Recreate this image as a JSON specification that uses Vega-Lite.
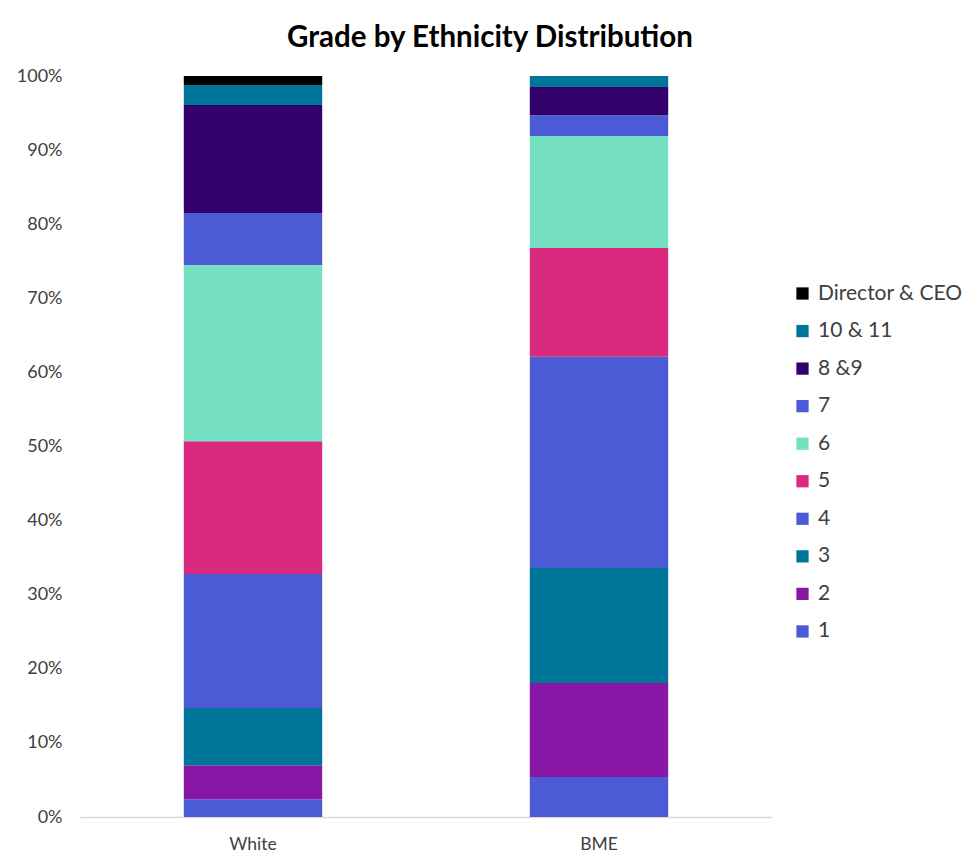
{
  "$schema": "https://vega.github.io/schema/vega-lite/v6.json",
  "width": 692,
  "height": 741,
  "autosize": {"type": "none"},
  "padding": {"left": 80, "top": 76, "right": 194, "bottom": 44},
  "background": "white",
  "title": {
    "text": "Grade by Ethnicity Distribution",
    "font": "Lato",
    "fontSize": 29.5,
    "fontWeight": "bold",
    "color": "#000000",
    "anchor": "middle",
    "dx": 64,
    "offset": 14
  },
  "data": {
    "values": [
      {"group": "White", "grade": "1", "rank": 1, "share": 2.4},
      {"group": "White", "grade": "2", "rank": 2, "share": 4.6},
      {"group": "White", "grade": "3", "rank": 3, "share": 7.7},
      {"group": "White", "grade": "4", "rank": 4, "share": 18.1},
      {"group": "White", "grade": "5", "rank": 5, "share": 17.9},
      {"group": "White", "grade": "6", "rank": 6, "share": 23.8},
      {"group": "White", "grade": "7", "rank": 7, "share": 7.0},
      {"group": "White", "grade": "8 &9", "rank": 8, "share": 14.6},
      {"group": "White", "grade": "10 & 11", "rank": 9, "share": 2.7},
      {"group": "White", "grade": "Director & CEO", "rank": 10, "share": 1.2},
      {"group": "BME", "grade": "1", "rank": 1, "share": 5.4},
      {"group": "BME", "grade": "2", "rank": 2, "share": 12.7},
      {"group": "BME", "grade": "3", "rank": 3, "share": 15.5},
      {"group": "BME", "grade": "4", "rank": 4, "share": 28.5},
      {"group": "BME", "grade": "5", "rank": 5, "share": 14.7},
      {"group": "BME", "grade": "6", "rank": 6, "share": 15.1},
      {"group": "BME", "grade": "7", "rank": 7, "share": 2.8},
      {"group": "BME", "grade": "8 &9", "rank": 8, "share": 3.8},
      {"group": "BME", "grade": "10 & 11", "rank": 9, "share": 1.5},
      {"group": "BME", "grade": "Director & CEO", "rank": 10, "share": 0}
    ]
  },
  "mark": {"type": "bar"},
  "encoding": {
    "x": {
      "field": "group",
      "type": "nominal",
      "sort": ["White", "BME"],
      "scale": {"paddingInner": 0.6, "paddingOuter": 0.3},
      "axis": {
        "title": null,
        "labelAngle": 0,
        "labelFont": "Lato",
        "labelFontSize": 17.5,
        "labelColor": "#404040",
        "labelPadding": 18,
        "ticks": false,
        "domainColor": "#d9d9d9",
        "domainWidth": 1.5
      }
    },
    "y": {
      "field": "share",
      "type": "quantitative",
      "stack": "normalize",
      "scale": {"domain": [0, 1]},
      "axis": {
        "title": null,
        "format": ".0%",
        "values": [0, 0.1, 0.2, 0.3, 0.4, 0.5, 0.6, 0.7, 0.8, 0.9, 1],
        "labelFont": "Lato",
        "labelFontSize": 18,
        "labelColor": "#404040",
        "labelPadding": 18,
        "ticks": false,
        "domain": false,
        "grid": false
      }
    },
    "order": {"field": "rank", "type": "quantitative", "sort": "ascending"},
    "color": {
      "field": "grade",
      "type": "nominal",
      "scale": {
        "domain": ["Director & CEO", "10 & 11", "8 &9", "7", "6", "5", "4", "3", "2", "1"],
        "range": ["#000000", "#00759A", "#31006A", "#4A5BD5", "#76E0C2", "#D92A80", "#4A5BD5", "#00759A", "#8817A5", "#4A5BD5"]
      },
      "legend": {
        "title": null,
        "orient": "none",
        "legendX": 712,
        "legendY": 207,
        "symbolType": "square",
        "symbolSize": 150,
        "symbolStrokeWidth": 0,
        "labelFont": "Lato",
        "labelFontSize": 21,
        "labelColor": "#404040",
        "labelOffset": 5,
        "rowPadding": 15.55
      }
    }
  },
  "config": {
    "view": {"stroke": null}
  }
}
